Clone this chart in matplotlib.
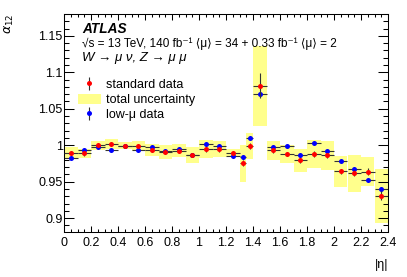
import numpy as np
import matplotlib
matplotlib.use("Agg")
import matplotlib.pyplot as plt
from matplotlib.patches import Patch
from matplotlib.ticker import MultipleLocator

plt.rcParams['font.family'] = ['Liberation Sans', 'DejaVu Sans']
plt.rcParams['font.size'] = 9

# |eta| bin edges
edges = [0.0, 0.1, 0.2, 0.3, 0.4, 0.5, 0.6, 0.7, 0.8, 0.9, 1.0, 1.1, 1.2, 1.3,
         1.35, 1.4, 1.5, 1.6, 1.7, 1.8, 1.9, 2.0, 2.1, 2.2, 2.3, 2.4]

# standard data
alpha_std = [0.9897, 0.9888, 1.0000, 1.0020, 0.9992, 0.9993, 0.9934, 0.9911, 0.9925,
             0.9865, 0.9944, 0.9944, 0.9895, 0.9750, 0.9993, 1.0815, 0.9930, 0.9879,
             0.9793, 0.9883, 0.9861, 0.9640, 0.9614, 0.9636, 0.9308]
err_std = [0.003, 0.003, 0.003, 0.003, 0.003, 0.003, 0.003, 0.003, 0.003,
           0.003, 0.003, 0.003, 0.003, 0.004, 0.004, 0.017, 0.003, 0.003,
           0.003, 0.004, 0.003, 0.003, 0.004, 0.005, 0.006]

# low-mu data
alpha_low = [0.9828, 0.9932, 0.9970, 0.9934, 0.9990, 0.9934, 0.9975, 0.9920, 0.9950,
             0.9870, 1.0012, 0.9987, 0.9853, 0.9833, 1.0095, 1.0697, 0.9975, 0.9989,
             0.9865, 1.0030, 0.9925, 0.9787, 0.9668, 0.9522, 0.9394]
err_low = [0.002, 0.002, 0.002, 0.002, 0.002, 0.002, 0.002, 0.002, 0.002,
           0.002, 0.002, 0.002, 0.002, 0.003, 0.003, 0.004, 0.002, 0.002,
           0.002, 0.002, 0.002, 0.002, 0.003, 0.003, 0.004]

# total uncertainty (half width of band)
unc_tot = [0.008, 0.006, 0.006, 0.007, 0.005, 0.007, 0.008, 0.0097, 0.009,
           0.0105, 0.0125, 0.011, 0.005, 0.026, 0.0175, 0.055, 0.013, 0.0128,
           0.0154, 0.0195, 0.020, 0.021, 0.025, 0.020, 0.037]

edges = np.array(edges)
centers = 0.5 * (edges[1:] + edges[:-1])
halfw = 0.5 * (edges[1:] - edges[:-1])
alpha_std = np.array(alpha_std)
unc_tot = np.array(unc_tot)

fig = plt.figure(figsize=(4.07, 2.77), dpi=100)
ax = fig.add_axes([64/407, 45/277, 324/407, 218/277])

band_col = '#ffff8c'
ax.bar(centers, 2*unc_tot, bottom=alpha_std - unc_tot, width=2*halfw,
       color=band_col, edgecolor='none', zorder=1)
ax.errorbar(centers, alpha_low, xerr=halfw, yerr=err_low, fmt='o', color='blue',
            ms=3.6, mew=0, ecolor='#333333', elinewidth=0.8, capsize=0, zorder=2)
ax.errorbar(centers, alpha_std, xerr=halfw, yerr=err_std, fmt='o', color='red',
            ms=3.6, mew=0, ecolor='#333333', elinewidth=0.8, capsize=0, zorder=3)

ax.set_xlim(0, 2.4)
ax.set_ylim(0.881, 1.18)
ax.xaxis.set_major_locator(MultipleLocator(0.2))
ax.xaxis.set_minor_locator(MultipleLocator(0.05))
ax.yaxis.set_major_locator(MultipleLocator(0.05))
ax.yaxis.set_minor_locator(MultipleLocator(0.01))
ax.set_xticks(np.arange(0, 2.41, 0.2))
ax.set_xticklabels(['0', '0.2', '0.4', '0.6', '0.8', '1', '1.2', '1.4', '1.6',
                    '1.8', '2', '2.2', '2.4'])
ax.set_yticks([0.9, 0.95, 1.0, 1.05, 1.1, 1.15])
ax.set_yticklabels(['0.9', '0.95', '1', '1.05', '1.1', '1.15'])
ax.tick_params(which='both', direction='in', top=True, right=True, width=0.75,
               labelsize=9)
ax.tick_params(axis='x', which='major', length=4.3, pad=3.5)
ax.tick_params(axis='x', which='minor', length=2.2)
ax.tick_params(axis='y', which='major', length=7.2, pad=1)
ax.tick_params(axis='y', which='minor', length=3.6)
for s in ax.spines.values():
    s.set_linewidth(0.75)

ax.set_ylabel(r'$\alpha_{12}$', loc='top', fontsize=9)
ax.yaxis.set_label_coords(-0.148, 1.0)
ax.set_xlabel('|η|', loc='right', fontsize=9)
ax.xaxis.set_label_coords(1.0, -0.125)

ax.text(0.056, 0.913, 'ATLAS', transform=ax.transAxes, fontsize=9.8,
        fontweight='bold', fontstyle='italic', va='baseline')
ax.text(0.056, 0.849, '√s = 13 TeV, 140 fb⁻¹ ⟨μ⟩ = 34 + 0.33 fb⁻¹ ⟨μ⟩ = 2',
        transform=ax.transAxes, fontsize=8.5, va='baseline')
ax.text(0.056, 0.786, 'W → μ ν, Z → μ μ', transform=ax.transAxes, fontsize=9.5,
        fontstyle='italic', va='baseline')

h_std = ax.errorbar([np.nan], [np.nan], yerr=[0.01], fmt='o', color='red', ms=3.6,
                    mew=0, ecolor='#333333', elinewidth=0.8, capsize=0)
h_low = ax.errorbar([np.nan], [np.nan], yerr=[0.01], fmt='o', color='blue', ms=3.6,
                    mew=0, ecolor='#333333', elinewidth=0.8, capsize=0)
h_band = Patch(facecolor=band_col, edgecolor='none')
ax.legend([h_std, h_band, h_low], ['standard data', 'total uncertainty', 'low-μ data'],
          loc='upper left', bbox_to_anchor=(0.043, 0.703), frameon=False,
          borderpad=0, borderaxespad=0, handlelength=1.85, handleheight=0.9,
          handletextpad=0.4, labelspacing=0.2, fontsize=9)

fig.savefig('out.png', dpi=100)
